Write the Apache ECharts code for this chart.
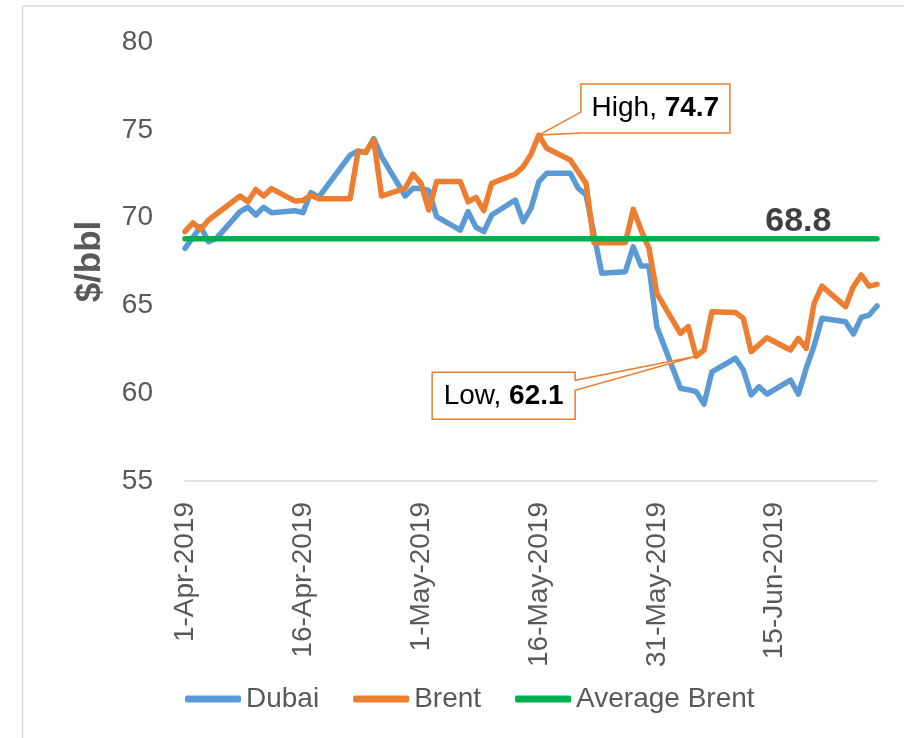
<!DOCTYPE html>
<html>
<head>
<meta charset="utf-8">
<script src="https://cdn.jsdelivr.net/npm/echarts@6.0.0/dist/echarts.min.js"></script>
<style>
  html, body { margin: 0; padding: 0; background: #fff; }
  #main { width: 904px; height: 738px; }
</style>
</head>
<body>
<div id="main"></div>
<script>
// trading days, Apr-Jun 2019
var dates = [
  '2019-04-01','2019-04-02','2019-04-03','2019-04-04','2019-04-05',
  '2019-04-08','2019-04-09','2019-04-10','2019-04-11','2019-04-12',
  '2019-04-15','2019-04-16','2019-04-17','2019-04-18','2019-04-19',
  '2019-04-22','2019-04-23','2019-04-24','2019-04-25','2019-04-26',
  '2019-04-29','2019-04-30','2019-05-01','2019-05-02','2019-05-03',
  '2019-05-06','2019-05-07','2019-05-08','2019-05-09','2019-05-10',
  '2019-05-13','2019-05-14','2019-05-15','2019-05-16','2019-05-17',
  '2019-05-20','2019-05-21','2019-05-22','2019-05-23','2019-05-24',
  '2019-05-27','2019-05-28','2019-05-29','2019-05-30','2019-05-31',
  '2019-06-03','2019-06-04','2019-06-05','2019-06-06','2019-06-07',
  '2019-06-10','2019-06-11','2019-06-12','2019-06-13','2019-06-14',
  '2019-06-17','2019-06-18','2019-06-19','2019-06-20','2019-06-21',
  '2019-06-24','2019-06-25','2019-06-26','2019-06-27','2019-06-28'
]
var brent = [
  69.2, 69.7, 69.33, 69.86, null,
  71.23, 70.9, 71.6, 71.23, 71.65,
  70.94, 70.98, 71.27, 71.08, null,
  71.08, 73.75, 73.75, 74.42, 71.23,
  71.67, 72.48, 71.95, 70.43, 72.05,
  72.05, 70.9, 71.15, 70.4, 71.95,
  72.48, 72.9, 73.6, 74.7, 73.95,
  73.28, null, 71.95, 68.57, 68.57,
  68.57, 70.47, 69.29, 68.25, 65.69,
  63.41, 63.79, 62.1, 62.46, 64.64,
  64.59, 64.27, 62.37, null, 63.16,
  62.46, 63.12, 62.56, 65.12, 66.1,
  64.93, 66.07, 66.73, 66.1, 66.2
]
var dubai = [
  68.25, null, 69.48, 68.63, 68.82,
  70.34, 70.59, 70.15, 70.59, 70.28,
  70.39, 70.28, 71.42, 71.16, null,
  73.56, 73.8, 73.7, 74.5, 73.47,
  71.23, 71.67, 71.65, 71.55, 70.05,
  69.29, 70.34, 69.45, 69.2, 70.15,
  71.0, 69.77, 70.53, 72.05, 72.52,
  72.52, 71.67, 71.29, null, 66.83,
  66.92, 68.34, 67.24, 67.24, 63.79,
  60.28, 60.2, 60.09, 59.38, 61.22,
  61.99, 61.32, 59.9, 60.37, 59.95,
  60.75, 59.95, 61.42, 62.7, 64.27,
  64.07, 63.37, 64.32, 64.45, 64.97
]
var avgBrent = 68.8
var avgLabelDate = '2019-06-18'
var yTicks = [55, 60, 65, 70, 75, 80]

var MONTHS = ['Jan','Feb','Mar','Apr','May','Jun','Jul','Aug','Sep','Oct','Nov','Dec']
var DAY = 864e5
var start = Date.parse(dates[0])
function dayOf(s) { return Math.round((Date.parse(s) - start) / DAY) }
function fmtDay(d) {
  var t = new Date(start + d * DAY)
  return t.getUTCDate() + '-' + MONTHS[t.getUTCMonth()] + '-' + t.getUTCFullYear()
}
function pairs(vals) {
  return dates.map(function (s, i) { return [dayOf(s), vals[i]] })
}

var FONT = "'Liberation Sans', Arial, sans-serif"
var GREY = '#595959'
var DARK = '#404040'
var ORANGE = '#ED7D31'
var lastDay = dayOf(dates[dates.length - 1])

var chart = echarts.init(document.getElementById('main'))

var lineStyle = { width: 5.5, cap: 'round', join: 'round' }

chart.setOption({
  animation: false,
  textStyle: { fontFamily: FONT },
  grid: { left: 185, right: 904 - 877, top: 42, bottom: 738 - 481 },
  legend: {
    data: ['Dubai', 'Brent', 'Average Brent'],
    left: 180, top: 680,
    icon: 'roundRect',
    itemWidth: 56, itemHeight: 7, itemGap: 34,
    textStyle: { fontSize: 28, color: GREY, fontFamily: FONT }
  },
  xAxis: {
    type: 'value',
    min: 0, max: lastDay, interval: 15,
    axisLine: { show: true, lineStyle: { color: '#d9d9d9', width: 1.5 } },
    axisTick: { show: false },
    splitLine: { show: false },
    axisLabel: {
      rotate: 90, margin: 21, fontSize: 28, color: GREY, fontFamily: FONT,
      showMaxLabel: false,
      formatter: function (v) { return fmtDay(v) }
    }
  },
  yAxis: {
    type: 'value',
    min: yTicks[0], max: yTicks[yTicks.length - 1], interval: 5,
    name: '$/bbl', nameLocation: 'middle', nameGap: 77,
    nameTextStyle: { fontSize: 35, fontWeight: 'bold', color: GREY, fontFamily: FONT },
    axisLine: { show: false },
    axisTick: { show: false },
    splitLine: { show: false },
    axisLabel: { margin: 32, fontSize: 28, color: GREY, fontFamily: FONT }
  },
  series: [
    {
      name: 'Dubai', type: 'line', color: '#5B9BD5',
      showSymbol: false, symbol: 'none', connectNulls: true,
      lineStyle: lineStyle, data: pairs(dubai)
    },
    {
      name: 'Brent', type: 'line', color: ORANGE,
      showSymbol: false, symbol: 'none', connectNulls: true,
      lineStyle: lineStyle, data: pairs(brent)
    },
    {
      name: 'Average Brent', type: 'line', color: '#00B050',
      showSymbol: false, symbol: 'none',
      lineStyle: lineStyle,
      data: [[0, avgBrent], [lastDay, avgBrent]],
      markPoint: {
        symbol: 'circle', symbolSize: 1,
        itemStyle: { color: 'transparent' },
        label: {
          show: true, position: 'top', distance: 0,
          fontSize: 34, fontWeight: 'bold', color: DARK, fontFamily: FONT,
          formatter: function () { return avgBrent.toFixed(1) }
        },
        data: [{ coord: [dayOf(avgLabelDate), avgBrent] }]
      }
    }
  ]
})

// callouts for Brent high / low
function extreme(isMax) {
  var best = -1
  brent.forEach(function (v, i) {
    if (v == null) return
    if (best < 0 || (isMax ? v > brent[best] : v < brent[best])) best = i
  })
  return best
}
var hi = extreme(true), lo = extreme(false)
var pHi = chart.convertToPixel({ gridIndex: 0 }, [dayOf(dates[hi]), brent[hi]])
var pLo = chart.convertToPixel({ gridIndex: 0 }, [dayOf(dates[lo]), brent[lo]])

function calloutText(cx, cy, word, val) {
  return {
    type: 'text', x: cx, y: cy, z: 101,
    style: {
      text: '{a|' + word + ', }{b|' + val.toFixed(1) + '}',
      align: 'center', verticalAlign: 'middle',
      rich: {
        a: { fontSize: 28, color: GREY, fontFamily: FONT },
        b: { fontSize: 28, color: DARK, fontWeight: 'bold', fontFamily: FONT }
      }
    }
  }
}

// high box sits up-right of the point, wedge off its lower-left corner
var hL = pHi[0] + 42, hT = pHi[1] - 51, hW = 149, hH = 49
// low box sits down-left of the point, wedge off its right side
var lL = pLo[0] - 264, lT = pLo[1] + 16, lW = 143, lH = 47

chart.setOption({
  graphic: [
    {
      type: 'rect', z: 0, silent: true,
      shape: { x: 22.5, y: 6, width: 1000, height: 1000 },
      style: { fill: 'none', stroke: '#d9d9d9', lineWidth: 1.5 }
    },
    {
      type: 'polygon', z: 100,
      shape: { points: [
        [hL, hT], [hL + hW, hT], [hL + hW, hT + hH], [hL, hT + hH],
        [pHi[0], pHi[1]], [hL, hT + 28]
      ] },
      style: { fill: '#fff', stroke: ORANGE, lineWidth: 1.5 }
    },
    calloutText(hL + hW / 2, hT + hH / 2, 'High', brent[hi]),
    {
      type: 'polygon', z: 100,
      shape: { points: [
        [lL, lT], [lL + lW, lT], [lL + lW, lT + 8],
        [pLo[0], pLo[1]], [lL + lW, lT + 18],
        [lL + lW, lT + lH], [lL, lT + lH]
      ] },
      style: { fill: '#fff', stroke: ORANGE, lineWidth: 1.5 }
    },
    calloutText(lL + lW / 2, lT + lH / 2, 'Low', brent[lo])
  ]
})
</script>
</body>
</html>
